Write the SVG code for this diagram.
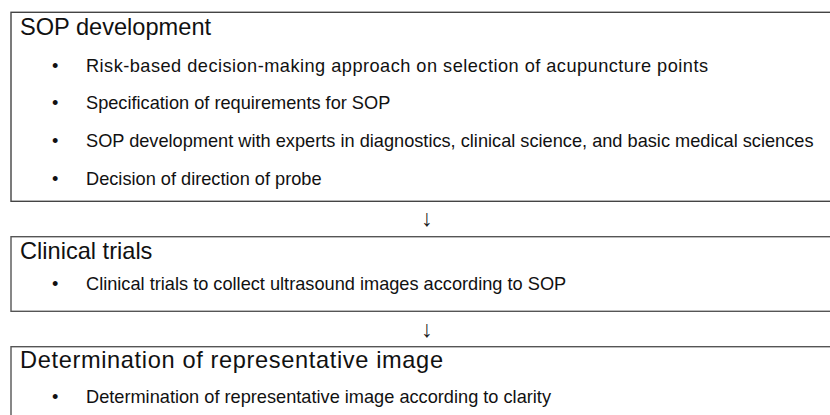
<svg xmlns="http://www.w3.org/2000/svg" width="830" height="415" viewBox="0 0 830 415">
<style>
.box{fill:#fff;stroke:#555;stroke-width:1.4}
.t{font-family:"Liberation Sans",Arial,sans-serif;font-size:23.6px;fill:#111}
.b{font-family:"Liberation Sans",Arial,sans-serif;font-size:18.2px;fill:#111}
.a{font-family:"Liberation Sans",Arial,sans-serif;font-size:23px;fill:#222;text-anchor:middle}
</style>
<rect width="830" height="415" fill="#fff"/>
<g id="sop">
<rect class="box" x="11" y="12.3" width="830" height="189" style="stroke:#444"/>
<text class="t" x="20" y="35">SOP development</text>
<text class="b" x="52" y="71.5">•</text><text class="b" x="86" y="71.5" textLength="622" lengthAdjust="spacing">Risk-based decision-making approach on selection of acupuncture points</text>
<text class="b" x="52" y="109">•</text><text class="b" x="86" y="109">Specification of requirements for SOP</text>
<text class="b" x="52" y="146.5">•</text><text class="b" x="86" y="146.5">SOP development with experts in diagnostics, clinical science, and basic medical sciences</text>
<text class="b" x="52" y="184.5">•</text><text class="b" x="86" y="184.5">Decision of direction of probe</text>
</g>
<g id="clinical">
<rect class="box" x="11" y="236.7" width="830" height="74.6"/>
<text class="t" x="20" y="259">Clinical trials</text>
<text class="b" x="52" y="290">•</text><text class="b" x="86" y="290">Clinical trials to collect ultrasound images according to SOP</text>
</g>
<g id="determination">
<rect class="box" x="11" y="346.7" width="830" height="80"/>
<text class="t" x="20" y="368" textLength="423" lengthAdjust="spacing">Determination of representative image</text>
<text class="b" x="52" y="403">•</text><text class="b" x="86" y="403">Determination of representative image according to clarity</text>
</g>
<g id="connectors">
<text class="a" x="427" y="226">↓</text>
<text class="a" x="427" y="337">↓</text>
</g>
</svg>
